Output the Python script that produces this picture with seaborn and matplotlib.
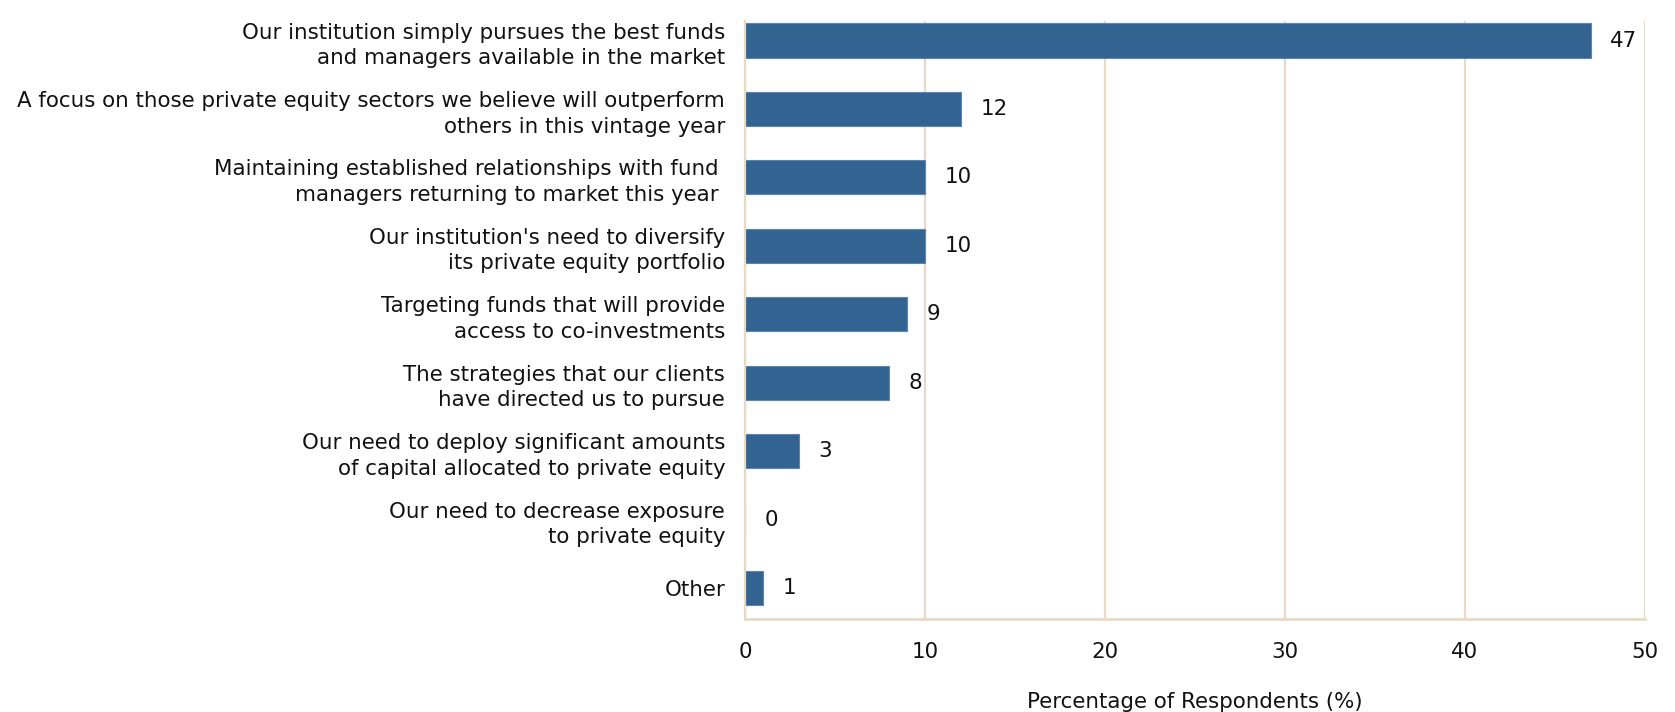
import matplotlib
matplotlib.use("Agg")
import matplotlib.pyplot as plt
import seaborn as sns
import pandas as pd

categories = [
    "Our institution simply pursues the best funds\nand managers available in the market",
    "A focus on those private equity sectors we believe will outperform\nothers in this vintage year",
    "Maintaining established relationships with fund \nmanagers returning to market this year ",
    "Our institution's need to diversify\nits private equity portfolio",
    "Targeting funds that will provide\naccess to co-investments",
    "The strategies that our clients\nhave directed us to pursue",
    "Our need to deploy significant amounts\nof capital allocated to private equity",
    "Our need to decrease exposure\nto private equity",
    "Other",
]
values = [47, 12, 10, 10, 9, 8, 3, 0, 1]
xticks = [0, 10, 20, 30, 40, 50]

df = pd.DataFrame({"category": categories, "value": values})

sns.set_theme(style="white")
plt.rcParams["font.family"] = ["DejaVu Sans"]

FS = 15.4

fig = plt.figure(figsize=(16.75, 7.12), dpi=100)
ax = fig.add_axes([0.445, 0.131, 0.537, 0.839])

bar_color = "#336391"
grid_color = "#E6DAC4"

sns.barplot(data=df, y="category", x="value", orient="h", color=bar_color,
            width=0.5, saturation=1, edgecolor="#5B86B0", linewidth=0.8, ax=ax)

ax.set_xlim(0, 50)
ax.set_ylim(8.45, -0.28)
ax.set_xticks(xticks)
ax.set_xticklabels([str(t) for t in xticks])
ax.xaxis.grid(True, color=grid_color, linewidth=1.6)
ax.yaxis.grid(False)
ax.set_axisbelow(True)

for s in ["top", "right"]:
    ax.spines[s].set_visible(False)
ax.spines["bottom"].set_color(grid_color)
ax.spines["bottom"].set_linewidth(2)
ax.spines["left"].set_color(grid_color)
ax.spines["left"].set_linewidth(1.6)

ax.tick_params(axis="y", length=0, pad=14.5, labelsize=FS, colors="#111111")
ax.tick_params(axis="x", length=0, pad=16.5, labelsize=FS, colors="#111111")
for lbl in ax.get_yticklabels():
    lbl.set_linespacing(1.35)

ax.set_ylabel("")
ax.set_xlabel("Percentage of Respondents (%)", fontsize=FS, labelpad=22, color="#111111")

for c in ax.containers:
    ax.bar_label(c, labels=[str(v) for v in values], padding=14, fontsize=FS, color="#111111")

fig.savefig("out.png", dpi=100)
